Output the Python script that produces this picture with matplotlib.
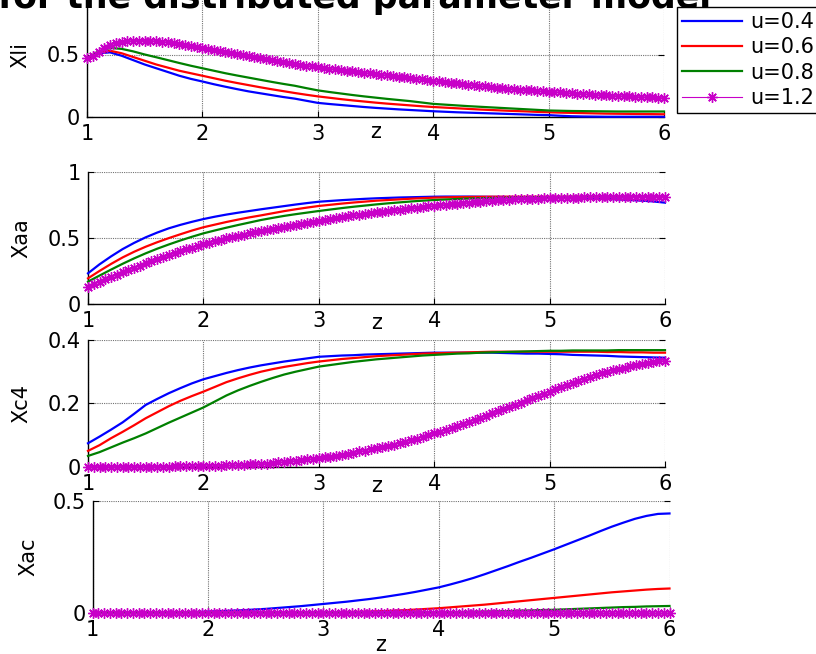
import numpy as np
import matplotlib
matplotlib.use("Agg")
import matplotlib.pyplot as plt

plt.rcParams['font.family'] = ['DejaVu Sans']

# ---------------- data ----------------
labels = ["u=0.4", "u=0.6", "u=0.8", "u=1.2"]
colors = ["#0000FF", "#FF0000", "#008000", "#C800C8"]
ylabels = ["Xli", "Xaa", "Xc4", "Xac"]
xticks = [1, 2, 3, 4, 5, 6]
yticks_list = [[0, 0.5], [0, 0.5, 1], [0, 0.2, 0.4], [0, 0.5]]
ylims = [(0, 1.0), (0, 1.0), (0, 0.4), (0, 0.5)]
title_text = "for the distributed parameter model"

# Xli  (lines: z = 1..6 step 0.1 ; u=1.2: step 0.05)
xli_04 = [0.47, 0.51, 0.517, 0.49, 0.455, 0.42, 0.39, 0.36, 0.33, 0.305,
          0.284, 0.262, 0.242, 0.223, 0.205, 0.19, 0.175, 0.16, 0.147, 0.13,
          0.113, 0.104, 0.096, 0.088, 0.08, 0.073, 0.067, 0.061, 0.056, 0.051,
          0.046, 0.042, 0.038, 0.035, 0.032, 0.029, 0.026, 0.023, 0.02, 0.017,
          0.015, 0.01, 0.006, 0.004, 0.003, 0.002, 0.002, 0.002, 0.002, 0.002,
          0.002]
xli_06 = [0.47, 0.515, 0.53, 0.51, 0.48, 0.45, 0.42, 0.395, 0.37, 0.35,
          0.33, 0.31, 0.29, 0.272, 0.255, 0.238, 0.222, 0.207, 0.192, 0.178,
          0.165, 0.154, 0.143, 0.133, 0.124, 0.115, 0.107, 0.1, 0.093, 0.086,
          0.08, 0.075, 0.07, 0.065, 0.06, 0.056, 0.052, 0.048, 0.045, 0.041,
          0.038, 0.035, 0.033, 0.031, 0.029, 0.027, 0.026, 0.025, 0.024, 0.023,
          0.022]
xli_08 = [0.47, 0.525, 0.552, 0.545, 0.525, 0.5, 0.478, 0.455, 0.432, 0.41,
          0.39, 0.37, 0.35, 0.332, 0.315, 0.298, 0.281, 0.265, 0.25, 0.231,
          0.213, 0.2, 0.188, 0.176, 0.165, 0.155, 0.145, 0.136, 0.127, 0.116,
          0.105, 0.099, 0.093, 0.087, 0.082, 0.077, 0.072, 0.067, 0.062, 0.057,
          0.052, 0.05, 0.048, 0.047, 0.046, 0.045, 0.044, 0.044, 0.044, 0.044,
          0.044]
xli_12 = [0.47, 0.49, 0.52, 0.55, 0.575, 0.59, 0.60, 0.607, 0.61, 0.612,
          0.612, 0.61, 0.607, 0.603, 0.598, 0.592, 0.585, 0.577, 0.568, 0.559,
          0.55, 0.542, 0.534, 0.526, 0.518, 0.509, 0.501, 0.493, 0.485, 0.477,
          0.469, 0.462, 0.454, 0.447, 0.44, 0.433, 0.426, 0.419, 0.412, 0.406,
          0.40, 0.394, 0.388, 0.382, 0.377, 0.371, 0.366, 0.36, 0.355, 0.35,
          0.345, 0.339, 0.334, 0.328, 0.323, 0.317, 0.312, 0.306, 0.301, 0.295,
          0.29, 0.285, 0.28, 0.275, 0.27, 0.265, 0.26, 0.255, 0.25, 0.245,
          0.24, 0.236, 0.232, 0.228, 0.224, 0.22, 0.216, 0.213, 0.209, 0.206,
          0.203, 0.2, 0.197, 0.194, 0.191, 0.188, 0.185, 0.182, 0.179, 0.176,
          0.173, 0.171, 0.169, 0.167, 0.165, 0.163, 0.161, 0.159, 0.157, 0.155,
          0.153]

# Xaa
xaa_04 = [0.232, 0.3, 0.36, 0.415, 0.462, 0.504, 0.54, 0.572, 0.598, 0.621,
          0.642, 0.66, 0.676, 0.69, 0.703, 0.716, 0.728, 0.74, 0.752, 0.763,
          0.773, 0.779, 0.785, 0.79, 0.795, 0.799, 0.802, 0.805, 0.807, 0.809,
          0.811, 0.812, 0.812, 0.812, 0.811, 0.81, 0.809, 0.808, 0.807, 0.806,
          0.805, 0.803, 0.8, 0.798, 0.796, 0.794, 0.79, 0.786, 0.781, 0.775,
          0.766]
xaa_06 = [0.194, 0.25, 0.303, 0.352, 0.395, 0.433, 0.467, 0.498, 0.527, 0.555,
          0.58, 0.6, 0.62, 0.638, 0.655, 0.67, 0.686, 0.702, 0.716, 0.729,
          0.741, 0.75, 0.759, 0.767, 0.774, 0.781, 0.786, 0.791, 0.796, 0.8,
          0.804, 0.806, 0.808, 0.809, 0.81, 0.811, 0.811, 0.811, 0.811, 0.811,
          0.811, 0.811, 0.811, 0.811, 0.812, 0.812, 0.812, 0.812, 0.812, 0.812,
          0.812]
xaa_08 = [0.169, 0.215, 0.26, 0.304, 0.345, 0.383, 0.418, 0.45, 0.48, 0.508,
          0.534, 0.556, 0.577, 0.597, 0.616, 0.635, 0.651, 0.666, 0.679, 0.691,
          0.703, 0.714, 0.725, 0.735, 0.744, 0.753, 0.761, 0.768, 0.775, 0.781,
          0.786, 0.79, 0.794, 0.797, 0.799, 0.801, 0.803, 0.805, 0.806, 0.807,
          0.808, 0.809, 0.81, 0.81, 0.811, 0.811, 0.812, 0.812, 0.812, 0.813,
          0.813]
xaa_12 = [0.131, 0.15, 0.168, 0.186, 0.204, 0.222, 0.239, 0.256, 0.273, 0.29,
          0.307, 0.323, 0.338, 0.353, 0.368, 0.383, 0.397, 0.412, 0.426, 0.44,
          0.453, 0.464, 0.475, 0.486, 0.496, 0.506, 0.516, 0.525, 0.534, 0.543,
          0.552, 0.56, 0.568, 0.576, 0.584, 0.592, 0.6, 0.608, 0.615, 0.623,
          0.63, 0.637, 0.643, 0.65, 0.656, 0.662, 0.669, 0.675, 0.681, 0.687,
          0.693, 0.698, 0.703, 0.708, 0.714, 0.719, 0.724, 0.729, 0.734, 0.738,
          0.743, 0.747, 0.751, 0.755, 0.759, 0.763, 0.767, 0.771, 0.774, 0.778,
          0.781, 0.783, 0.785, 0.788, 0.79, 0.792, 0.794, 0.795, 0.797, 0.798,
          0.799, 0.8, 0.801, 0.802, 0.803, 0.804, 0.805, 0.806, 0.807, 0.808,
          0.809, 0.81, 0.81, 0.811, 0.811, 0.811, 0.812, 0.812, 0.812, 0.812,
          0.812]

# Xc4
xc4_04 = [0.074, 0.095, 0.117, 0.14, 0.167, 0.195, 0.214, 0.232, 0.248, 0.263,
          0.276, 0.286, 0.296, 0.305, 0.313, 0.32, 0.326, 0.332, 0.337, 0.342,
          0.347, 0.349, 0.351, 0.352, 0.354, 0.355, 0.356, 0.357, 0.358, 0.359,
          0.36, 0.36, 0.36, 0.36, 0.36, 0.36, 0.359, 0.358, 0.357, 0.357,
          0.356, 0.355, 0.353, 0.352, 0.351, 0.35, 0.348, 0.347, 0.346, 0.345,
          0.344]
xc4_06 = [0.05, 0.068, 0.09, 0.11, 0.131, 0.153, 0.172, 0.191, 0.208, 0.223,
          0.237, 0.252, 0.267, 0.279, 0.29, 0.3, 0.308, 0.315, 0.321, 0.327,
          0.332, 0.336, 0.34, 0.343, 0.346, 0.349, 0.351, 0.353, 0.355, 0.357,
          0.358, 0.359, 0.36, 0.361, 0.362, 0.363, 0.363, 0.363, 0.363, 0.363,
          0.363, 0.363, 0.363, 0.363, 0.363, 0.362, 0.362, 0.361, 0.361, 0.36,
          0.36]
xc4_08 = [0.034, 0.046, 0.061, 0.076, 0.09, 0.105, 0.122, 0.139, 0.155, 0.171,
          0.187, 0.206, 0.225, 0.241, 0.255, 0.268, 0.28, 0.291, 0.3, 0.308,
          0.316, 0.321, 0.326, 0.331, 0.335, 0.339, 0.342, 0.345, 0.348, 0.351,
          0.353, 0.355, 0.357, 0.358, 0.36, 0.361, 0.362, 0.363, 0.364, 0.365,
          0.366, 0.366, 0.367, 0.367, 0.367, 0.367, 0.368, 0.368, 0.368, 0.368,
          0.368]
xc4_12 = [0.0, 0.0, 0.0, 0.0, 0.0, 0.0, 0.0, 0.0, 0.0, 0.0,
          0.0, 0.0, 0.0, 0.0, 0.0, 0.001, 0.001, 0.001, 0.001, 0.002,
          0.002, 0.002, 0.003, 0.003, 0.004, 0.004, 0.005, 0.006, 0.007, 0.008,
          0.009, 0.01, 0.012, 0.014, 0.015, 0.017, 0.019, 0.021, 0.023, 0.025,
          0.027, 0.03, 0.032, 0.035, 0.038, 0.041, 0.044, 0.048, 0.051, 0.055,
          0.058, 0.062, 0.066, 0.07, 0.075, 0.079, 0.084, 0.089, 0.094, 0.1,
          0.105, 0.111, 0.117, 0.123, 0.129, 0.135, 0.141, 0.148, 0.154, 0.161,
          0.168, 0.175, 0.181, 0.188, 0.195, 0.202, 0.209, 0.216, 0.223, 0.23,
          0.237, 0.244, 0.251, 0.258, 0.265, 0.272, 0.278, 0.284, 0.29, 0.295,
          0.3, 0.305, 0.309, 0.313, 0.317, 0.321, 0.324, 0.327, 0.33, 0.333,
          0.335]

# Xac
xac_04 = [0.0, 0.0, 0.0, 0.0, 0.0, 0.0, 0.0, 0.001, 0.002, 0.003,
          0.005, 0.007, 0.009, 0.011, 0.014, 0.017, 0.021, 0.025, 0.029, 0.034,
          0.039, 0.044, 0.049, 0.055, 0.061, 0.068, 0.076, 0.084, 0.093, 0.103,
          0.113, 0.126, 0.14, 0.155, 0.172, 0.19, 0.208, 0.227, 0.245, 0.264,
          0.283, 0.303, 0.323, 0.343, 0.364, 0.384, 0.402, 0.419, 0.432, 0.441,
          0.443]
xac_06 = [0.0, 0.0, 0.0, 0.0, 0.0, 0.0, 0.0, 0.0, 0.0, 0.0,
          0.0, 0.0, 0.0, 0.0, 0.0, 0.0, 0.0, 0.0, 0.0, 0.0,
          0.001, 0.002, 0.003, 0.004, 0.005, 0.007, 0.009, 0.011, 0.014, 0.017,
          0.02, 0.024, 0.028, 0.032, 0.036, 0.041, 0.046, 0.051, 0.056, 0.061,
          0.066, 0.071, 0.076, 0.081, 0.086, 0.091, 0.095, 0.099, 0.103, 0.106,
          0.108]
xac_08 = [0.0, 0.0, 0.0, 0.0, 0.0, 0.0, 0.0, 0.0, 0.0, 0.0,
          0.0, 0.0, 0.0, 0.0, 0.0, 0.0, 0.0, 0.0, 0.0, 0.0,
          0.0, 0.0, 0.0, 0.0, 0.0, 0.0, 0.0, 0.0, 0.0, 0.0,
          0.001, 0.002, 0.003, 0.004, 0.005, 0.006, 0.007, 0.009, 0.01, 0.012,
          0.013, 0.015, 0.017, 0.019, 0.021, 0.023, 0.025, 0.026, 0.028, 0.029,
          0.03]
xac_12 = [0.0, 0.0, 0.0, 0.0, 0.0, 0.0, 0.0, 0.0, 0.0, 0.0,
          0.0, 0.0, 0.0, 0.0, 0.0, 0.0, 0.0, 0.0, 0.0, 0.0,
          0.0, 0.0, 0.0, 0.0, 0.0, 0.0, 0.0, 0.0, 0.0, 0.0,
          0.0, 0.0, 0.0, 0.0, 0.0, 0.0, 0.0, 0.0, 0.0, 0.0,
          0.0, 0.0, 0.0, 0.0, 0.0, 0.0, 0.0, 0.0, 0.0, 0.0,
          0.0, 0.0, 0.0, 0.0, 0.0, 0.0, 0.0, 0.0, 0.0, 0.0,
          0.0, 0.0, 0.0, 0.0, 0.0, 0.0, 0.0, 0.0, 0.0, 0.0,
          0.0, 0.0, 0.0, 0.0, 0.0, 0.0, 0.0, 0.0, 0.0, 0.0,
          0.0, 0.0, 0.0, 0.0, 0.0, 0.0, 0.0, 0.0, 0.0, 0.0,
          0.0, 0.0, 0.0, 0.0, 0.0, 0.0, 0.0, 0.0, 0.0, 0.0,
          0.0]

panels = [
    [xli_04, xli_06, xli_08, xli_12],
    [xaa_04, xaa_06, xaa_08, xaa_12],
    [xc4_04, xc4_06, xc4_08, xc4_12],
    [xac_04, xac_06, xac_08, xac_12],
]

# ---------------- layout (pixels of an 816x654 canvas) ----------------
W, H = 816, 654
# (left, right, top, bottom) in pixel coordinates
boxes = [
    (87, 664, -8, 117),
    (88, 665, 171.7, 304),
    (88, 665, 340, 466.7),
    (92.5, 669.5, 500.7, 612.7),
]
xlabel_off = [-0.12, -0.145, -0.15, -0.29]   # axes fraction
ylabel_x = [20, 21, 21, 28]                  # pixel

fig = plt.figure(figsize=(W / 100, H / 100), dpi=100)

axes = []
for i, (l, r, t, b) in enumerate(boxes):
    ax = fig.add_axes([l / W, 1 - b / H, (r - l) / W, (b - t) / H])
    axes.append(ax)
    series = panels[i]
    for j, vals in enumerate(series):
        z = np.linspace(1, 6, len(vals))
        if j < 3:
            ax.plot(z, vals, color=colors[j], lw=1.6, label=labels[j],
                    clip_on=False, zorder=3 + j)
        else:
            ax.plot(z, vals, color=colors[j], lw=0.8, marker=(8, 2, 0),
                    markersize=7.5, markeredgewidth=1.0, label=labels[j],
                    clip_on=False, zorder=6)
    ax.set_xlim(1, 6)
    ax.set_ylim(*ylims[i])
    ax.set_xticks(xticks)
    ax.set_xticklabels([str(v) for v in xticks])
    ax.set_yticks(yticks_list[i])
    ax.set_yticklabels([("%g" % v) for v in yticks_list[i]])
    ax.grid(True, color="0.45", linestyle=(0, (1, 1)), linewidth=0.8)
    ax.set_axisbelow(True)
    for s in ["top", "right"]:
        ax.spines[s].set_visible(False)
    for s in ["left", "bottom"]:
        ax.spines[s].set_linewidth(1.0)
        ax.spines[s].set_color("black")
    ax.tick_params(direction="in", length=4, width=0.8, labelsize=15,
                   pad=5, top=False, right=True)
    ax.set_xlabel("z", fontsize=15)
    ax.xaxis.set_label_coords(0.5, xlabel_off[i])
    ax.xaxis.label.set_va("center")
    ax.set_ylabel(ylabels[i], fontsize=15)
    ax.yaxis.set_label_coords((ylabel_x[i] - boxes[i][0]) / (boxes[i][1] - boxes[i][0]), 0.5)
    ax.yaxis.label.set_va("center")

# title (cut at the top edge, as in the reference)
fig.text(-2 / W, 1 - 8 / H, title_text, fontsize=25, fontweight="bold",
         ha="left", va="baseline", zorder=1)

# legend
h, lab = axes[0].get_legend_handles_labels()
leg = fig.legend(h, lab, loc="upper left",
                 bbox_to_anchor=(677 / W, 1 - 7.3 / H),
                 fontsize=15, frameon=True, fancybox=False,
                 edgecolor="black", framealpha=1.0,
                 borderpad=0.22, labelspacing=0.26,
                 handlelength=2.9, handletextpad=0.4, borderaxespad=0.0)
leg.get_frame().set_linewidth(1.0)
leg.set_zorder(10)

fig.savefig("out.png", dpi=100)
